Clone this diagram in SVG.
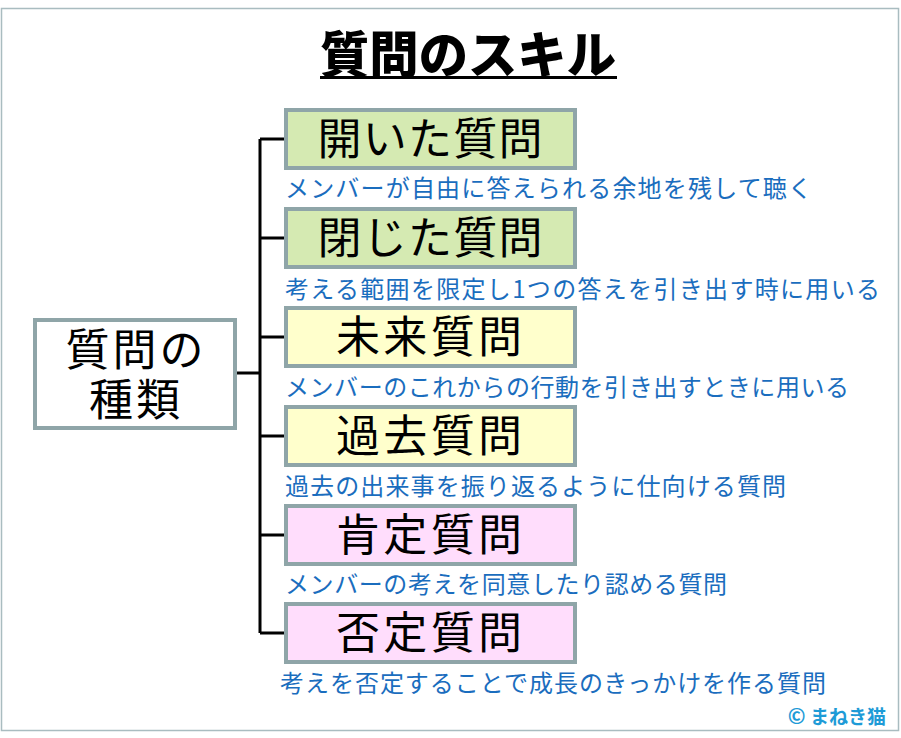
<svg xmlns="http://www.w3.org/2000/svg" width="901" height="738" viewBox="0 0 901 738">
<style>
.box{stroke:#8FA5A8;stroke-width:4}
.g{fill:#D5EAB2}.y{fill:#FFFFCC}.p{fill:#FFDDFC}
.bt{font-family:"Noto Sans CJK JP",sans-serif;font-size:44px;fill:#000;text-anchor:middle}
.ds{font-family:"Noto Sans CJK JP",sans-serif;font-size:24px;fill:#1A6DBE}
.cn{fill:none;stroke:#000;stroke-width:3}
</style>
<rect x="0" y="0" width="901" height="738" fill="#fff"/>
<rect x="1.5" y="8.5" width="897" height="722" fill="#fff" stroke="#A9BCC0" stroke-width="1.5"/>
<g id="title">
<text x="468" y="73" font-family="Noto Sans CJK JP,sans-serif" font-size="50" font-weight="900" text-anchor="middle" textLength="296" lengthAdjust="spacingAndGlyphs">質問のスキル</text>
<rect x="320" y="76" width="297" height="3" fill="#000"/>
</g>
<g id="connectors">
<path class="cn" d="M236 373H260M260 139V633M260 139H285M260 238H285M260 337H285M260 436H285M260 535H285M260 633H285"/>
</g>
<g id="root">
<rect class="box" x="35" y="320" width="200" height="108" fill="#fff"/>
<text class="bt" x="136" y="366" font-size="37" letter-spacing="3">質問の</text>
<text class="bt" x="136" y="416" font-size="37" letter-spacing="3">種類</text>
</g>
<g id="n1">
<rect class="box g" x="286" y="110" width="289" height="58"/>
<text class="bt" x="430" y="155" textLength="225">開いた質問</text>
<text class="ds" x="285" y="197" textLength="527">メンバーが自由に答えられる余地を残して聴く</text>
</g>
<g id="n2">
<rect class="box g" x="286" y="209" width="289" height="58"/>
<text class="bt" x="430" y="254" textLength="225">閉じた質問</text>
<text class="ds" x="285" y="298" textLength="595">考える範囲を限定し1つの答えを引き出す時に用いる</text>
</g>
<g id="n3">
<rect class="box y" x="286" y="308" width="289" height="58"/>
<text class="bt" x="429" y="353" textLength="186">未来質問</text>
<text class="ds" x="285" y="396" textLength="564">メンバーのこれからの行動を引き出すときに用いる</text>
</g>
<g id="n4">
<rect class="box y" x="286" y="407" width="289" height="58"/>
<text class="bt" x="429" y="452" textLength="186">過去質問</text>
<text class="ds" x="285" y="495" textLength="501">過去の出来事を振り返るように仕向ける質問</text>
</g>
<g id="n5">
<rect class="box p" x="286" y="506" width="289" height="58"/>
<text class="bt" x="429" y="551" textLength="186">肯定質問</text>
<text class="ds" x="285" y="593" textLength="442">メンバーの考えを同意したり認める質問</text>
</g>
<g id="n6">
<rect class="box p" x="286" y="604" width="289" height="58"/>
<text class="bt" x="429" y="649" textLength="186">否定質問</text>
<text class="ds" x="280" y="692" textLength="546">考えを否定することで成長のきっかけを作る質問</text>
</g>
<text x="886" y="724" font-family="Noto Sans CJK JP,sans-serif" font-size="19" font-weight="bold" fill="#1E9BD7" text-anchor="end"><tspan font-size="21">©</tspan>  まねき猫</text>
</svg>
